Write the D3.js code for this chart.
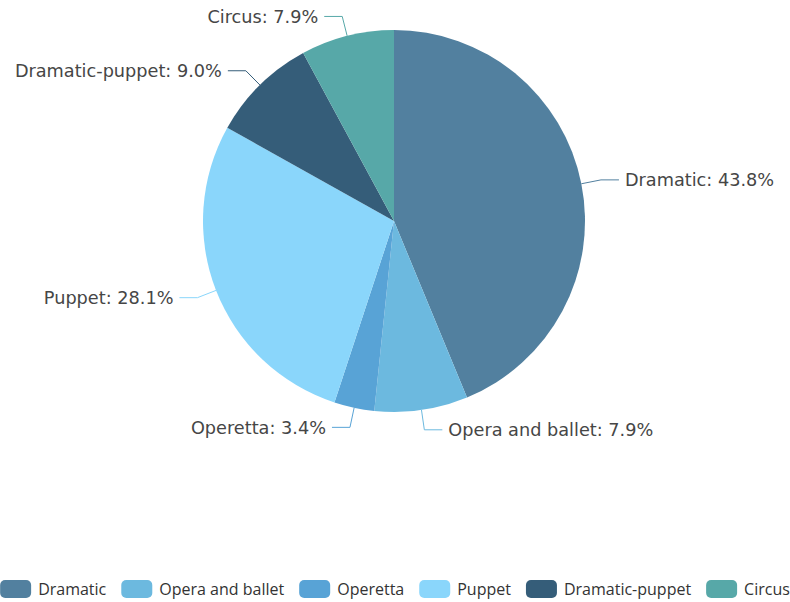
<!DOCTYPE html>
<html><head><meta charset="utf-8">
<script src="https://cdn.jsdelivr.net/npm/d3@7"></script>
<style>html,body{margin:0;padding:0;background:#fff;}svg{display:block;}</style>
</head><body>
<svg id="chart" width="790" height="602"></svg>
<script>
const categories = ["Dramatic", "Opera and ballet", "Operetta", "Puppet", "Dramatic-puppet", "Circus"];
const values = [43.8, 7.9, 3.4, 28.1, 9.0, 7.9];
const colors = ["#52809f", "#6cb9df", "#58a3d6", "#8ad6fb", "#355d79", "#57a8a8"];

const svg = d3.select("#chart");
const W = 790;
const cx = 394, cy = 221, R = 191;
const data = categories.map((c, i) => ({name: c, value: values[i], color: colors[i]}));

const pie = d3.pie().value(d => d.value).sort(null);
const arcs = pie(data);
const arcGen = d3.arc().innerRadius(0).outerRadius(R);

const g = svg.append("g").attr("transform", `translate(${cx},${cy})`);
g.selectAll("path.slice").data(arcs).join("path")
  .attr("class", "slice")
  .attr("d", arcGen)
  .attr("fill", d => d.data.color);

const len1 = 20, len2 = 18, gap = 6;
arcs.forEach(a => {
  const mid = (a.startAngle + a.endAngle) / 2;
  const sx = Math.sin(mid), sy = -Math.cos(mid);
  const p0 = [R * sx, R * sy];
  const p1 = [(R + len1) * sx, (R + len1) * sy];
  const right = sx >= 0;
  const p2 = [p1[0] + (right ? len2 : -len2), p1[1]];
  g.append("polyline")
    .attr("points", [p0, p1, p2].map(p => p.join(",")).join(" "))
    .attr("fill", "none")
    .attr("stroke", a.data.color)
    .attr("stroke-width", 1);
  g.append("text")
    .attr("x", p2[0] + (right ? gap : -gap))
    .attr("y", p2[1])
    .attr("dy", "0.35em")
    .attr("text-anchor", right ? "start" : "end")
    .attr("font-family", "'DejaVu Sans', sans-serif")
    .attr("font-size", 17.7)
    .attr("fill", "#464646")
    .text(`${a.data.name}: ${a.data.value.toFixed(1)}%`);
});

// Legend
const legendY = 589;
const rectW = 31, rectH = 18, textGap = 7, itemGap = 15;
const lg = svg.append("g");
const items = data.map(d => {
  const t = lg.append("text")
    .attr("font-family", "'Open Sans', sans-serif")
    .attr("font-size", 16)
    .attr("fill", "#333")
    .attr("dy", "0.35em")
    .attr("y", legendY)
    .text(d.name);
  return {d, t, w: t.node().getComputedTextLength()};
});
const total = items.reduce((s, it) => s + rectW + textGap + it.w, 0) + itemGap * (items.length - 1);
let x = (W - total) / 2;
items.forEach(it => {
  lg.append("rect")
    .attr("x", x).attr("y", legendY - rectH / 2)
    .attr("width", rectW).attr("height", rectH)
    .attr("rx", 5).attr("ry", 5)
    .attr("fill", it.d.color);
  it.t.attr("x", x + rectW + textGap);
  x += rectW + textGap + it.w + itemGap;
});
</script>
</body></html>
